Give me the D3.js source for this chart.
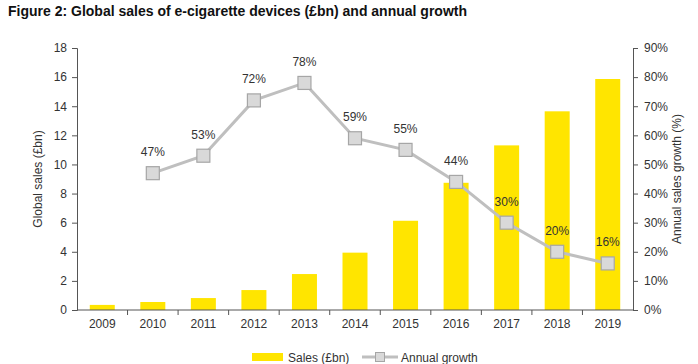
<!DOCTYPE html>
<html><head><meta charset="utf-8">
<script src="https://cdn.jsdelivr.net/npm/d3@7"></script>
<style>body{margin:0;background:#fff}svg{display:block;font-family:"Liberation Sans",Arial,sans-serif}</style>
</head><body><svg id="c" width="698" height="364"></svg>
<script>
const years = ["2009","2010","2011","2012","2013","2014","2015","2016","2017","2018","2019"];
const sales = [0.35,0.55,0.82,1.37,2.47,3.94,6.13,8.74,11.31,13.65,15.87];
const growth = [null,47,53,72,78,59,55,44,30,20,16];
const leftTicks = [0,2,4,6,8,10,12,14,16,18];
const rightTicks = [0,10,20,30,40,50,60,70,80,90];

const svg = d3.select("#c");
const L = 77, R = 633, T = 48, B = 310;
const xc = d3.scaleBand().domain(years).range([L, R]);
const y = d3.scaleLinear().domain([0, 18]).range([B, T]);
const y2 = d3.scaleLinear().domain([0, 90]).range([B, T]);
const axisCol = "#555", txtCol = "#333";

svg.append("text").attr("x", 8).attr("y", 15.5).attr("font-weight", "bold").attr("font-size", 14).attr("fill", "#111")
  .text("Figure 2: Global sales of e-cigarette devices (£bn) and annual growth");

// bars
svg.selectAll("rect.bar").data(years).join("rect").attr("class", "bar")
  .attr("x", d => xc(d) + (xc.bandwidth() - 25) / 2).attr("width", 25)
  .attr("y", (d, i) => y(sales[i])).attr("height", (d, i) => B - y(sales[i]))
  .attr("fill", "#FFE500");

// left axis
const la = svg.append("g").attr("transform", `translate(${L},0)`)
  .call(d3.axisLeft(y).tickValues(leftTicks).tickSize(5).tickPadding(5));
// right axis
const ra = svg.append("g").attr("transform", `translate(${R},0)`)
  .call(d3.axisRight(y2).tickValues(rightTicks).tickSize(5).tickPadding(6).tickFormat(d => d + "%"));
// bottom axis
const ba = svg.append("g").attr("transform", `translate(0,${B})`)
  .call(d3.axisBottom(xc).tickSize(0).tickPadding(9));
[la, ra, ba].forEach(g => {
  g.select(".domain").attr("stroke", axisCol);
  g.selectAll(".tick line").attr("stroke", axisCol);
  g.selectAll("text").attr("fill", txtCol).attr("font-size", 12).attr("font-family", "Liberation Sans, Arial, sans-serif");
});
ba.select(".domain").attr("d", `M${L},0H${R}`);
// category separators
svg.append("g").selectAll("line").data(years.slice(1)).join("line")
  .attr("x1", d => xc(d)).attr("x2", d => xc(d)).attr("y1", B).attr("y2", B + 5).attr("stroke", axisCol);

// axis titles
svg.append("text").attr("transform", `translate(42,${(T + B) / 2}) rotate(-90)`).attr("text-anchor", "middle")
  .attr("font-size", 12).attr("fill", txtCol).text("Global sales (£bn)");
svg.append("text").attr("transform", `translate(681,${(T + B) / 2}) rotate(-90)`).attr("text-anchor", "middle")
  .attr("font-size", 12).attr("fill", txtCol).text("Annual sales growth (%)");

// growth line
const gd = years.map((d, i) => ({ d, v: growth[i] })).filter(p => p.v !== null);
const line = d3.line().x(p => xc(p.d) + xc.bandwidth() / 2).y(p => y2(p.v));
svg.append("path").datum(gd).attr("d", line).attr("fill", "none").attr("stroke", "#bfbfbf").attr("stroke-width", 3);
svg.selectAll("rect.mk").data(gd).join("rect").attr("class", "mk")
  .attr("x", p => xc(p.d) + xc.bandwidth() / 2 - 6.5).attr("y", p => y2(p.v) - 6.5)
  .attr("width", 13).attr("height", 13).attr("fill", "#d9d9d9").attr("stroke", "#a6a6a6").attr("stroke-width", 1.2);
svg.selectAll("text.lbl").data(gd).join("text").attr("class", "lbl")
  .attr("x", p => xc(p.d) + xc.bandwidth() / 2).attr("y", p => y2(p.v) - 17)
  .attr("text-anchor", "middle").attr("font-size", 12).attr("fill", txtCol).text(p => p.v + "%");

// legend
svg.append("rect").attr("x", 252).attr("y", 353).attr("width", 31).attr("height", 8).attr("fill", "#FFE500");
svg.append("text").attr("x", 288).attr("y", 362).attr("font-size", 12).attr("fill", txtCol).text("Sales (£bn)");
svg.append("line").attr("x1", 362).attr("x2", 398).attr("y1", 357).attr("y2", 357).attr("stroke", "#bfbfbf").attr("stroke-width", 3);
svg.append("rect").attr("x", 375.5).attr("y", 352.5).attr("width", 9).attr("height", 9).attr("fill", "#d9d9d9").attr("stroke", "#a6a6a6");
svg.append("text").attr("x", 401).attr("y", 362).attr("font-size", 12).attr("fill", txtCol).text("Annual growth");
</script></body></html>
